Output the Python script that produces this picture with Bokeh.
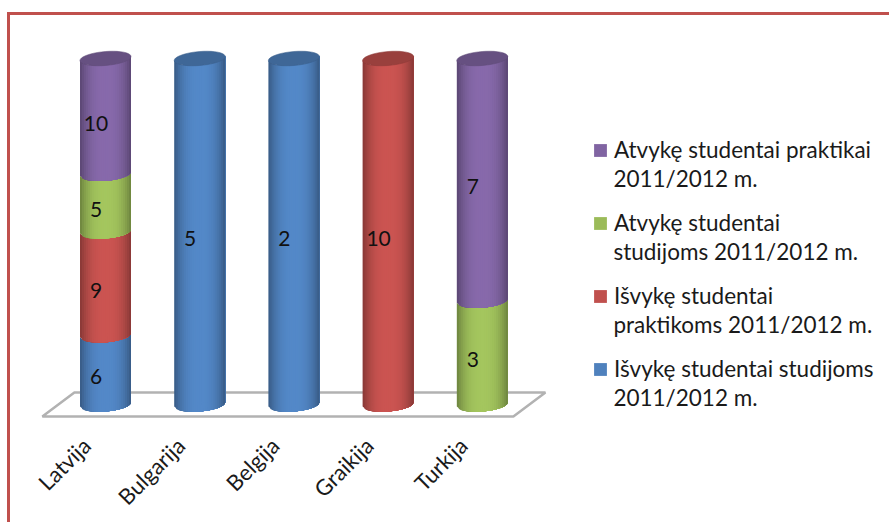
import math
from bokeh.plotting import figure
from bokeh.embed import file_html
from bokeh.resources import INLINE
from bokeh.core.properties import value
from bokeh.models import FactorRange, Range1d, Legend, LegendItem

categories = ["Latvija", "Bulgarija", "Belgija", "Graikija", "Turkija"]
isvyke_studijoms = [6, 5, 2, 0, 0]
isvyke_praktikoms = [9, 0, 0, 10, 0]
atvyke_studijoms = [5, 0, 0, 0, 3]
atvyke_praktikai = [10, 0, 0, 0, 7]
series_first_lines = ["Išvykę studentai studijoms", "Išvykę studentai", "Atvykę studentai", "Atvykę studentai praktikai"]
series_second_lines = ["2011/2012 m.", "praktikoms 2011/2012 m.", "studijoms 2011/2012 m.", "2011/2012 m."]
series_values = [isvyke_studijoms, isvyke_praktikoms, atvyke_studijoms, atvyke_praktikai]
series_colors = ["#4f81bd", "#c0504d", "#9bbb59", "#8064a2"]

FONT = "Lato"
W, H = 882, 515
PX_X = 94.25          # px per category
PX_Y = 3.46           # px per percent
OFF = 19 / PX_X       # cylinders sit right of the tick
HALF = 25.5 / PX_X
EY = 7 / PX_Y         # ellipse semi-minor axis
TILT = 2 / PX_Y

p = figure(
    width=W, height=H, output_backend="svg", toolbar_location=None,
    frame_width=623, frame_height=405,
    x_range=FactorRange(factors=categories + [" "], range_padding=0.1022),
    y_range=Range1d(-20 / PX_Y, 100 + 39 / PX_Y),
    min_border_left=0, min_border_right=0, min_border_top=4, min_border_bottom=0,
    outline_line_color=None, background_fill_color="white", border_fill_color="white",
    margin=(12, 0, 0, 7),
    styles={"border-left": "3.5px solid #c0504d", "border-top": "3.5px solid #c0504d", "box-sizing": "border-box"},
)
p.grid.visible = False
p.yaxis.visible = False
ax = p.xaxis[0]
ax.axis_line_color = None
ax.major_tick_line_color = None
ax.minor_tick_line_color = None
ax.major_label_orientation = math.pi / 4
ax.major_label_text_font = FONT
ax.major_label_text_font_size = "22px"
ax.major_label_text_color = "#1a1a1a"
ax.major_label_standoff = 11

# floor
fx0, fx1 = 0.5 + OFF, 4.5 + OFF
p.patch(
    [fx0 - 0.67, fx0 - 0.33, fx1 + 0.67, fx1 + 0.33],
    [-12 / PX_Y, 12 / PX_Y, 12 / PX_Y, -12 / PX_Y],
    fill_color="white", line_color="#b2b2b2", line_width=2.5,
)


def shade(color, f):
    r, g, b = (int(color[i:i + 2], 16) for i in (1, 3, 5))
    return "#%02x%02x%02x" % tuple(min(255, int(c * f)) for c in (r, g, b))


def front(u):
    return EY * math.sqrt(max(0, 1 - u * u))


N = 26
lab_x, lab_y, lab_t = [], [], []
for i, cat in enumerate(categories):
    cx = i + 0.5 + OFF
    vals = [s[i] for s in series_values]
    total = sum(vals)
    base = 0.0
    last_color = None
    for s, v in enumerate(vals):
        if v == 0:
            continue
        lo = base / total * 100
        hi = (base + v) / total * 100
        base += v
        last_color = series_colors[s]
        xs, ys, cs = [], [], []
        for k in range(N):
            u0 = -1 + 2 * k / N
            um = u0 + 1 / N
            # each strip runs on to the far edge; the next one paints over it
            us = [u0 + (1 - u0) * j / 12 for j in range(13)]
            top = [hi - front(u) + TILT * u for u in us]
            bot = [lo - front(u) + TILT * u for u in us]
            xs.append([cx + HALF * u for u in us] + [cx + HALF * u for u in reversed(us)])
            ys.append(top + bot[::-1])
            cs.append(shade(series_colors[s], 1.06 - 0.36 * abs(um) ** 2.6))
        p.patches(xs, ys, fill_color=cs, line_color=None)
        lab_x.append(cat)
        lab_y.append((lo + hi) / 2)
        lab_t.append(str(v))
    # top cap
    M = 40
    ex = [cx + HALF * math.cos(2 * math.pi * k / M) for k in range(M)]
    ey = [100 + EY * math.sin(2 * math.pi * k / M) + TILT * math.cos(2 * math.pi * k / M) for k in range(M)]
    p.patch(ex, ey, fill_color=shade(last_color, 0.8), line_color=shade(last_color, 0.72), line_width=0.5)

p.text(
    x=lab_x, y=lab_y, text=lab_t, x_offset=9.5, y_offset=7,
    text_align="center", text_baseline="middle",
    text_font=value(FONT), text_font_size="21px", text_color="#111111",
)

# legend: first lines with swatches, second lines in a legend of their own laid over it
LEGEND_STYLE = dict(
    orientation="vertical", glyph_width=16, glyph_height=16, spacing=46, padding=0, margin=0,
    label_standoff=6, label_text_font=FONT, label_text_font_size="22.5px",
    label_text_color="#1a1a1a", border_line_color=None, background_fill_alpha=0,
)
items1, items2 = [], []
for s in [3, 2, 1, 0]:
    r = p.vbar(x=categories[:1], top=[0], width=0.01, fill_color=series_colors[s], line_color=None)
    blank = p.vbar(x=categories[:1], top=[0], width=0.01, fill_alpha=0, line_color=None)
    items1.append(LegendItem(label=series_first_lines[s], renderers=[r]))
    items2.append(LegendItem(label=series_second_lines[s], renderers=[blank]))
legend1 = Legend(items=items1, location=(-41, 42), **LEGEND_STYLE)
legend2 = Legend(items=items2, location=(-809, 13), **LEGEND_STYLE)
p.add_layout(legend1, "right")
p.add_layout(legend2, "right")

open("out.html", "w").write(file_html(p, INLINE))
